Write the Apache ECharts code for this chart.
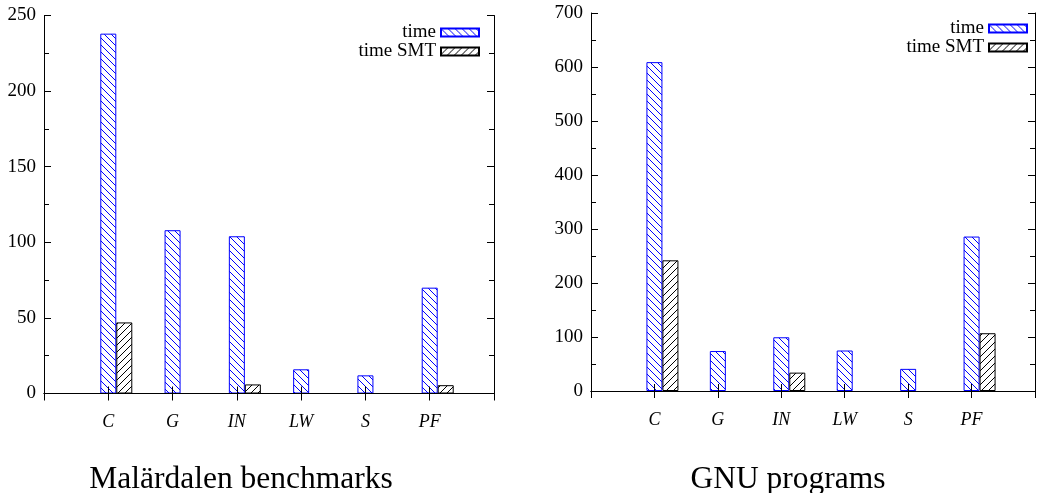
<!DOCTYPE html>
<html>
<head>
<meta charset="utf-8">
<script src="https://cdn.jsdelivr.net/npm/echarts@6/dist/echarts.min.js"></script>
<style>
html,body{margin:0;padding:0;background:#fff;}
#chart{width:1038px;height:493px;}
</style>
</head>
<body>
<div id="chart"></div>
<script>
// ---- data ----
const categories = ['C', 'G', 'IN', 'LW', 'S', 'PF'];
const malardalenTime = [238, 108, 104, 16, 12, 70];
const malardalenTimeSMT = [47, 0, 6, 0, 0, 5.5];
const gnuTime = [609, 74, 99.5, 75, 41, 286];
const gnuTimeSMT = [242, 0, 34, 0, 0, 107];
const leftTicks = {min: 0, max: 250, interval: 50};
const rightTicks = {min: 0, max: 700, interval: 100};
const titles = ['Malärdalen benchmarks', 'GNU programs'];
const seriesNames = ['time', 'time SMT'];

// ---- styling helpers ----
function hatch(color, dir) {
  const p = 7;
  const c = document.createElement('canvas');
  c.width = p; c.height = p;
  const g = c.getContext('2d');
  g.fillStyle = '#ffffff';
  g.fillRect(0, 0, p, p);
  g.strokeStyle = color;
  g.lineWidth = 1;
  g.beginPath();
  for (let k = -1; k <= 1; k++) {
    if (dir === 'back') {
      g.moveTo(k * p - 1, -1); g.lineTo(k * p + p + 1, p + 1);
    } else {
      g.moveTo(k * p - 1, p + 1); g.lineTo(k * p + p + 1, -1);
    }
  }
  g.stroke();
  return {image: c, repeat: 'repeat'};
}
const blueFill = hatch('#0000ff', 'back');
const blackFill = hatch('#000000', 'fwd');

const FONT = 'Liberation Serif';
const axisCats = [''].concat(categories, ['']);
// zero-height bars are not drawn in the reference
const pad = v => ['-'].concat(v.map(x => (x === 0 ? '-' : x)), ['-']);

function gridAxes(gi, ticks) {
  const xb = {
    type: 'category', gridIndex: gi, data: axisCats, boundaryGap: false, z: 5,
    axisLine: {show: true, lineStyle: {color: '#000', width: 1}},
    axisTick: {show: true, inside: true, length: 7, interval: 0, lineStyle: {color: '#000'}},
    axisLabel: {show: true, interval: 0, margin: 20, color: '#000', fontFamily: FONT, fontStyle: 'italic', fontSize: 18},
    splitLine: {show: false}
  };
  const xt = {
    type: 'category', gridIndex: gi, data: axisCats, boundaryGap: false, position: 'top',
    axisLine: {show: true, lineStyle: {color: '#000', width: 1}},
    axisTick: {show: true, inside: true, length: 7, interval: 0, lineStyle: {color: '#000'}},
    axisLabel: {show: false}, splitLine: {show: false}
  };
  const yl = {
    type: 'value', gridIndex: gi, min: ticks.min, max: ticks.max, interval: ticks.interval, position: 'left',
    axisLine: {show: true, lineStyle: {color: '#000', width: 1}},
    axisTick: {show: true, inside: true, length: 7, lineStyle: {color: '#000'}},
    minorTick: {show: true, splitNumber: 2, length: 5, lineStyle: {color: '#000'}},
    axisLabel: {show: true, margin: 8, color: '#000', fontFamily: FONT, fontSize: 19},
    splitLine: {show: false}
  };
  const yr = {
    type: 'value', gridIndex: gi, min: ticks.min, max: ticks.max, interval: ticks.interval, position: 'right',
    axisLine: {show: true, lineStyle: {color: '#000', width: 1}},
    axisTick: {show: true, inside: true, length: 7, lineStyle: {color: '#000'}},
    minorTick: {show: true, splitNumber: 2, length: 5, lineStyle: {color: '#000'}},
    axisLabel: {show: false}, splitLine: {show: false}
  };
  return {x: [xb, xt], y: [yl, yr]};
}

const gA = gridAxes(0, leftTicks);
const gB = gridAxes(1, rightTicks);

function barSeries(axisIdx, name, data, fill, border) {
  return {
    type: 'bar', name: name, xAxisIndex: axisIdx, yAxisIndex: axisIdx,
    data: pad(data), barWidth: 16, barGap: '0%',
    itemStyle: {color: fill, borderColor: border, borderWidth: 1},
    emphasis: {disabled: true}, animation: false
  };
}
function spacer(axisIdx) {
  return {type: 'bar', name: 'spacer', xAxisIndex: axisIdx, yAxisIndex: axisIdx,
    data: pad(categories.map(() => 0)), barWidth: 16, barGap: '0%', silent: true,
    itemStyle: {color: 'transparent'}, animation: false};
}

const legendCommon = {
  data: seriesNames, orient: 'vertical', align: 'right',
  itemWidth: 38, itemHeight: 8, itemGap: 0, padding: 0,
  textStyle: {color: '#000', fontFamily: FONT, fontSize: 19, lineHeight: 18},
  selectedMode: false, icon: 'rect'
};

const option = {
  animation: false,
  backgroundColor: '#fff',
  grid: [
    {left: 44, top: 15.5, width: 450, height: 378},
    {left: 591, top: 13, width: 450, height: 378}
  ],
  xAxis: [gA.x[0], gA.x[1], gB.x[0], gB.x[1]],
  yAxis: [gA.y[0], gA.y[1], gB.y[0], gB.y[1]],
  legend: [
    Object.assign({}, legendCommon, {right: 558, top: 23}),
    Object.assign({}, legendCommon, {right: 10, top: 19})
  ],
  title: [
    {text: titles[0], left: 236, top: 459, textAlign: 'center',
     textStyle: {fontFamily: FONT, fontWeight: 'normal', fontSize: 31.5, color: '#000'}},
    {text: titles[1], left: 783, top: 459, textAlign: 'center',
     textStyle: {fontFamily: FONT, fontWeight: 'normal', fontSize: 31.5, color: '#000'}}
  ],
  series: [
    spacer(0),
    barSeries(0, seriesNames[0], malardalenTime, blueFill, '#0000ff'),
    barSeries(0, seriesNames[1], malardalenTimeSMT, blackFill, '#000000'),
    spacer(2),
    barSeries(2, seriesNames[0], gnuTime, blueFill, '#0000ff'),
    barSeries(2, seriesNames[1], gnuTimeSMT, blackFill, '#000000')
  ]
};

const chart = echarts.init(document.getElementById('chart'), null, {renderer: 'canvas'});
chart.setOption(option);
</script>
</body>
</html>
